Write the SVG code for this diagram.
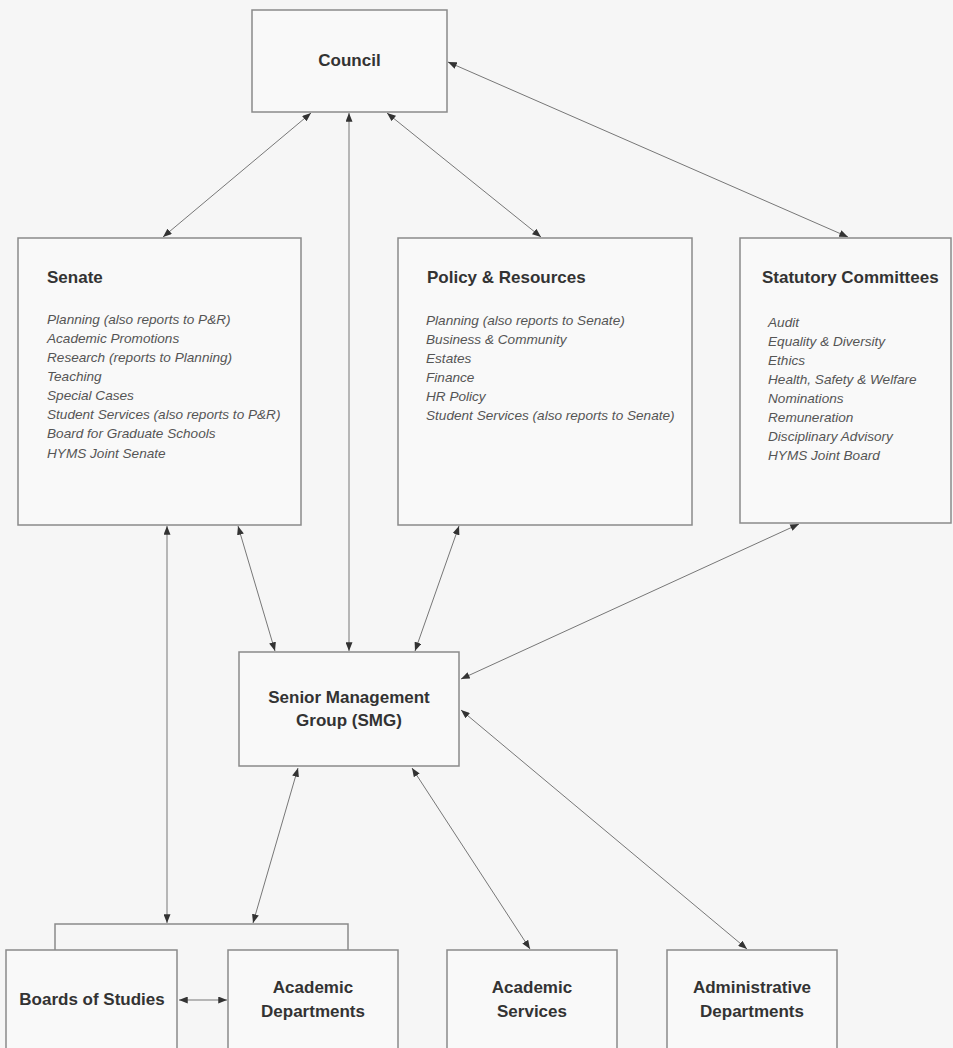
<svg xmlns="http://www.w3.org/2000/svg" width="953" height="1048" viewBox="0 0 953 1048">
<style>
.box{fill:#f9f9f9;stroke:#8a8a8a;stroke-width:1.5}
.t{font-family:"Liberation Sans",Arial,sans-serif;font-weight:bold;font-size:17px;fill:#333}
.c{text-anchor:middle}
.i{font-family:"Liberation Sans",Arial,sans-serif;font-style:italic;font-size:13.6px;fill:#555}
.ln{stroke:#777;stroke-width:1;fill:none;marker-start:url(#ah);marker-end:url(#ah)}
.br{stroke:#8a8a8a;stroke-width:1.5;fill:none}
</style>
<defs>
<marker id="ah" viewBox="0 0 10 8" markerWidth="9" markerHeight="7" refX="10" refY="4" orient="auto-start-reverse" markerUnits="userSpaceOnUse">
<path d="M0,0 L10,4 L0,8 z" fill="#333"/>
</marker>
</defs>
<rect width="953" height="1048" fill="#f6f6f6"/>
<g id="connectors">
<line class="ln" x1="311" y1="113" x2="163" y2="237"/>
<line class="ln" x1="349" y1="113" x2="349" y2="651"/>
<line class="ln" x1="387" y1="113" x2="541" y2="237"/>
<line class="ln" x1="448" y1="62" x2="848" y2="237"/>
<line class="ln" x1="167" y1="526" x2="167" y2="923"/>
<line class="ln" x1="238" y1="526" x2="275" y2="651"/>
<line class="ln" x1="459" y1="526" x2="415" y2="651"/>
<line class="ln" x1="799" y1="524" x2="461" y2="679"/>
<line class="ln" x1="298" y1="768" x2="253" y2="923"/>
<line class="ln" x1="412" y1="768" x2="530" y2="949"/>
<line class="ln" x1="461" y1="710" x2="747" y2="949"/>
<line class="ln" x1="179" y1="1000" x2="227" y2="1000"/>
<polyline class="br" points="55,950 55,924 348,924 348,950"/>
</g>
<g id="council">
<rect class="box" x="252" y="10" width="195" height="102"/>
<text class="t c" x="349.5" y="66">Council</text>
</g>
<g id="senate">
<rect class="box" x="18" y="238" width="283" height="287"/>
<text class="t" x="47" y="283">Senate</text>
<text class="i" x="47" y="324">Planning (also reports to P&amp;R)</text>
<text class="i" x="47" y="343">Academic Promotions</text>
<text class="i" x="47" y="362">Research (reports to Planning)</text>
<text class="i" x="47" y="381">Teaching</text>
<text class="i" x="47" y="400">Special Cases</text>
<text class="i" x="47" y="419">Student Services (also reports to P&amp;R)</text>
<text class="i" x="47" y="438">Board for Graduate Schools</text>
<text class="i" x="47" y="458">HYMS Joint Senate</text>
</g>
<g id="policy">
<rect class="box" x="398" y="238" width="294" height="287"/>
<text class="t" x="427" y="283">Policy &amp; Resources</text>
<text class="i" x="426" y="325">Planning (also reports to Senate)</text>
<text class="i" x="426" y="344">Business &amp; Community</text>
<text class="i" x="426" y="363">Estates</text>
<text class="i" x="426" y="382">Finance</text>
<text class="i" x="426" y="401">HR Policy</text>
<text class="i" x="426" y="420">Student Services (also reports to Senate)</text>
</g>
<g id="statutory">
<rect class="box" x="740" y="238" width="211" height="285"/>
<text class="t" x="762" y="283">Statutory Committees</text>
<text class="i" x="768" y="327">Audit</text>
<text class="i" x="768" y="346">Equality &amp; Diversity</text>
<text class="i" x="768" y="365">Ethics</text>
<text class="i" x="768" y="384">Health, Safety &amp; Welfare</text>
<text class="i" x="768" y="403">Nominations</text>
<text class="i" x="768" y="422">Remuneration</text>
<text class="i" x="768" y="441">Disciplinary Advisory</text>
<text class="i" x="768" y="460">HYMS Joint Board</text>
</g>
<g id="smg">
<rect class="box" x="239" y="652" width="220" height="114"/>
<text class="t c" x="349" y="703">Senior Management</text>
<text class="t c" x="349" y="726">Group (SMG)</text>
</g>
<g id="boards">
<rect class="box" x="6" y="950" width="171" height="110"/>
<text class="t c" x="92" y="1005">Boards of Studies</text>
</g>
<g id="academic-departments">
<rect class="box" x="228" y="950" width="170" height="110"/>
<text class="t c" x="313" y="993">Academic</text>
<text class="t c" x="313" y="1017">Departments</text>
</g>
<g id="academic-services">
<rect class="box" x="447" y="950" width="170" height="110"/>
<text class="t c" x="532" y="993">Academic</text>
<text class="t c" x="532" y="1017">Services</text>
</g>
<g id="administrative-departments">
<rect class="box" x="667" y="950" width="170" height="110"/>
<text class="t c" x="752" y="993">Administrative</text>
<text class="t c" x="752" y="1017">Departments</text>
</g>
</svg>
